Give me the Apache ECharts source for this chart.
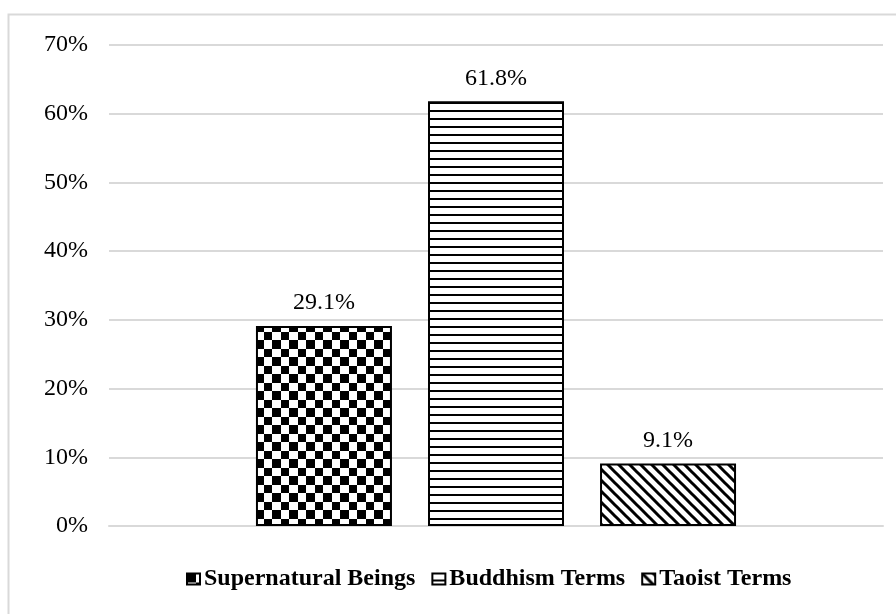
<!DOCTYPE html>
<html>
<head>
<meta charset="utf-8">
<script src="https://cdn.jsdelivr.net/npm/echarts@6/dist/echarts.min.js"></script>
<style>
  html, body { margin: 0; padding: 0; background: #fff; }
  #chart { width: 896px; height: 614px; }
</style>
</head>
<body>
<div id="chart"></div>
<script>
// data
var seriesNames = ['Supernatural Beings', 'Buddhism Terms', 'Taoist Terms'];
var seriesValues = [29.1, 61.8, 9.1];
var yTicks = [0, 10, 20, 30, 40, 50, 60, 70];

var serif = "'Liberation Serif', 'Times New Roman', serif";

// fill patterns
function checkTile() {
	var c = document.createElement('canvas');
	c.width = 17; c.height = 17;
	var g = c.getContext('2d');
	g.fillStyle = '#fff'; g.fillRect(0, 0, 17, 17);
	g.fillStyle = '#000';
	g.fillRect(0, 0, 9, 9);
	g.fillRect(9, 9, 8, 8);
	return c;
}
function hLineTile() {
	var c = document.createElement('canvas');
	c.width = 8; c.height = 8;
	var g = c.getContext('2d');
	g.fillStyle = '#fff'; g.fillRect(0, 0, 8, 8);
	g.fillStyle = '#000';
	g.fillRect(0, 6, 8, 2);
	return c;
}
function diagTile() {
	var s = 11;
	var c = document.createElement('canvas');
	c.width = s; c.height = s;
	var g = c.getContext('2d');
	g.fillStyle = '#fff'; g.fillRect(0, 0, s, s);
	g.strokeStyle = '#000';
	g.lineWidth = 3;
	g.beginPath();
	g.moveTo(-s, -s); g.lineTo(2 * s, 2 * s);
	g.moveTo(-s, 0); g.lineTo(s, 2 * s);
	g.moveTo(0, -s); g.lineTo(2 * s, s);
	g.stroke();
	return c;
}
var fills = [checkTile(), hLineTile(), diagTile()];

var dom = document.getElementById('chart');
var myChart = echarts.init(dom, null, { renderer: 'canvas' });

var series = seriesNames.map(function (name, i) {
	return {
		name: name,
		type: 'bar',
		data: [seriesValues[i]],
		barWidth: 136,
		barGap: '26.5%',
		itemStyle: {
			color: { image: fills[i], repeat: 'repeat' },
			borderColor: '#000',
			borderWidth: 2
		},
		label: {
			show: true,
			position: 'top',
			distance: 11,
			formatter: function (p) { return p.value.toFixed(1) + '%'; },
			fontFamily: serif,
			fontSize: 24,
			color: '#000'
		}
	};
});

var option = {
	animation: false,
	backgroundColor: '#fff',
	graphic: [{
		type: 'rect',
		shape: { x: 8.5, y: 14.5, width: 920, height: 640 },
		style: { fill: 'none', stroke: '#d9d9d9', lineWidth: 2 },
		silent: true
	}],
	grid: {
		left: 109,
		right: 13,
		top: 45,
		bottom: 88
	},
	legend: {
		data: seriesNames,
		top: 562,
		left: 181,
		itemWidth: 13,
		itemHeight: 11,
		itemGap: 16,
		icon: 'rect',
		textStyle: {
			fontFamily: serif,
			fontWeight: 'bold',
			fontSize: 24,
			color: '#000',
			padding: [0, 0, 0, -1]
		}
	},
	xAxis: {
		type: 'category',
		data: [''],
		axisLine: { show: true, lineStyle: { color: '#d9d9d9', width: 2 } },
		axisTick: { show: false },
		axisLabel: { show: false }
	},
	yAxis: {
		type: 'value',
		min: yTicks[0],
		max: yTicks[yTicks.length - 1],
		interval: 10,
		axisLine: { show: false },
		axisTick: { show: false },
		splitLine: { lineStyle: { color: '#d9d9d9', width: 2 } },
		axisLabel: {
			formatter: '{value}%',
			margin: 21,
			fontFamily: serif,
			fontSize: 24,
			color: '#000'
		}
	},
	series: series
};

myChart.setOption(option, true);
window.addEventListener('resize', function () { myChart.resize(); });
</script>
</body>
</html>
